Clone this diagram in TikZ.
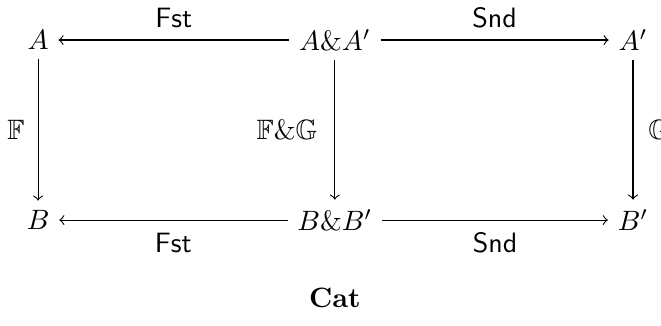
\documentclass[tikz,border=0pt]{standalone}
\usepackage{amsmath,amssymb}
\begin{document}
\begin{tikzpicture}[x=1pt,y=1pt,
  obj/.style={inner sep=3.33pt},
  mor/.style={->,line width=0.4pt},
  lbl/.style={inner sep=3.33pt},
  hlbl/.style={inner sep=4.3pt}]
\useasboundingbox (0,0) rectangle (236.1,-116.1);
\clip (0,0) rectangle (236.1,-116.1);
\node[obj] (A)  at (13.6,-14.3) {$A$};
\node[obj] (AA) at (119.6,-14.3) {$A\&A'$};
\node[obj] (A2) at (226.1,-14.3) {$A'$};
\node[obj] (B)  at (13.6,-78.6) {$B$};
\node[obj] (BB) at (119.6,-78.6) {$B\&B'$};
\node[obj] (B2) at (226.1,-78.6) {$B'$};
\node (cat) at (119.6,-106.4) {$\mathbf{Cat}$};
\draw[mor] (AA) -- node[above,hlbl]{$\mathsf{Fst}$} (A);
\draw[mor] (AA) -- node[above,hlbl]{$\mathsf{Snd}$} (A2);
\draw[mor] (BB) -- node[below,hlbl]{$\mathsf{Fst}$} (B);
\draw[mor] (BB) -- node[below,hlbl]{$\mathsf{Snd}$} (B2);
\draw[mor] (A) -- node[left,lbl,xshift=-1.3pt]{$\mathbb{F}$} (B);
\draw[mor] (AA) -- node[left,lbl,xshift=-2.7pt]{$\mathbb{F}\&\mathbb{G}$} (BB);
\draw[mor] (A2) -- node[right,lbl,xshift=2pt]{$\mathbb{G}$} (B2);
\end{tikzpicture}
\end{document}
